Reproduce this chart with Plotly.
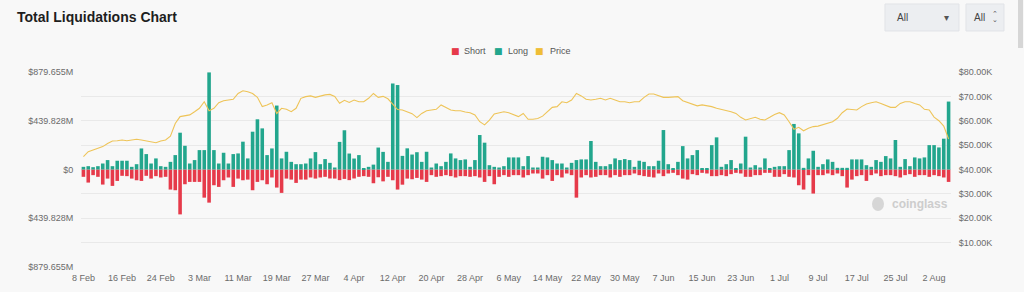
import pandas as pd
import plotly.graph_objects as go

# ---------------- data ----------------
start_date = "2024-02-08"
n_days = 180
dates = pd.date_range(start_date, periods=n_days, freq="D")

long_m = [24,30,21,30,54,85,30,79,79,79,
          24,48,190,139,54,100,30,24,69,130,
          332,214,54,85,175,175,876,175,54,151,
          54,139,145,251,100,341,453,371,130,190,
          577,100,160,69,48,48,54,100,157,48,
          94,60,18,249,354,144,99,130,9,24,
          44,198,159,69,776,762,123,191,135,156,
          69,160,18,54,30,69,145,100,85,91,
          24,85,311,242,39,24,18,30,109,109,
          109,30,121,18,18,115,109,85,54,54,
          18,60,85,91,91,257,69,30,30,48,
          100,85,94,85,24,79,69,30,30,79,
          356,48,9,69,211,100,130,175,9,9,
          220,290,24,48,85,9,54,296,18,39,
          18,100,9,24,30,30,175,411,326,15,
          100,169,24,48,91,69,15,15,15,91,
          91,91,39,24,85,69,121,100,266,24,
          94,30,109,100,109,220,220,199,278,613]

short_m = [66,118,51,66,136,82,148,103,57,60,
           82,97,103,57,82,60,72,66,181,187,
           405,133,112,112,112,254,299,142,157,97,
           72,157,82,97,91,187,112,97,133,72,
           163,211,82,91,121,91,91,72,82,72,
           66,81,82,96,85,96,81,66,60,66,
           124,70,107,66,97,181,137,82,88,76,
           91,112,51,66,60,51,60,72,60,60,
           66,60,72,112,60,133,66,51,66,51,
           51,72,51,36,36,82,51,103,51,72,
           36,51,254,72,51,72,66,51,51,72,
           51,66,51,51,36,51,60,66,72,36,
           60,36,30,51,82,91,42,51,30,36,
           60,60,51,60,42,30,36,66,66,51,
           51,30,30,66,66,42,66,72,142,181,
           51,217,51,51,36,51,36,60,163,91,
           60,51,103,51,36,60,51,51,60,72,
           51,42,66,51,51,66,51,60,72,112]

price_k = [45.3,47.3,48.0,48.7,49.4,50.7,51.7,51.8,52.1,51.8,
           52.1,52.4,52.1,51.8,51.4,51.0,51.7,52.1,53.7,58.9,
           61.7,61.9,62.4,63.7,65.1,67.8,64.1,65.1,67.4,68.2,
           68.5,68.8,71.2,72.3,71.9,71.2,69.6,65.8,66.5,67.4,
           63.0,65.1,64.7,63.7,65.1,69.2,69.9,70.2,69.6,70.2,
           70.6,70.8,70.0,67.2,68.4,67.5,68.5,67.8,67.8,69.2,
           71.2,69.6,70.0,69.0,66.8,64.6,64.4,63.8,62.9,61.3,
           63.0,64.1,64.4,64.7,66.5,65.4,64.4,64.1,64.1,63.6,
           63.3,62.4,59.6,58.3,60.3,62.8,63.3,63.7,63.3,62.6,
           61.7,63.0,60.6,60.6,60.9,61.9,63.7,65.5,65.8,67.8,
           67.4,68.5,71.2,70.2,68.8,68.5,68.8,69.2,68.5,69.2,
           68.5,67.8,67.8,67.4,67.8,67.8,69.6,71.0,71.0,70.2,
           69.6,69.6,69.6,69.9,68.2,67.4,66.9,66.1,66.5,66.3,
           65.8,65.1,64.7,64.1,63.7,63.0,61.4,60.3,61.0,61.4,
           60.6,60.3,61.4,62.6,63.3,62.4,59.6,56.5,57.3,55.9,
           56.9,57.6,57.8,58.3,58.9,59.6,61.0,63.3,64.8,64.7,
           64.4,65.8,66.9,67.4,67.8,67.1,66.2,65.5,65.5,67.1,
           67.8,67.8,67.1,66.5,64.7,64.4,61.5,60.0,57.8,52.5]

left_tick_vals = [-879.655, -439.828, 0, 439.828, 879.655]
left_tick_text = ["$879.655M", "$439.828M", "$0", "$439.828M", "$879.655M"]
right_tick_vals = [0, 10, 20, 30, 40, 50, 60, 70, 80]
right_tick_text = ["", "$10.00K", "$20.00K", "$30.00K", "$40.00K",
                   "$50.00K", "$60.00K", "$70.00K", "$80.00K"]
x_tick_step = 8
legend_names = ["Short", "Long", "Price"]

assert len(long_m) == n_days and len(short_m) == n_days and len(price_k) == n_days

# ---------------- style ----------------
W, H = 1024, 292
L, R, T, B = 81, 73, 72, 25
BG = "#f8f8f8"
GREEN = "#22a68d"
RED = "#e63a4a"
GOLD = "#efbd36"
LINE_GOLD = "#eec458"
TICK = "#6b6b6b"
FONT = "Liberation Sans, Arial, sans-serif"

pw, ph = W - L - R, H - T - B


def px(xp):
    return (xp - L) / pw


def py(yp):
    return (H - B - yp) / ph


fig = go.Figure()

fig.add_trace(go.Bar(x=dates, y=[-v for v in short_m], name=legend_names[0],
                     marker=dict(color=RED, line=dict(width=0)),
                     showlegend=False))
fig.add_trace(go.Bar(x=dates, y=long_m, name=legend_names[1],
                     marker=dict(color=GREEN, line=dict(width=0)),
                     showlegend=False))
fig.add_trace(go.Scatter(x=dates, y=price_k, name=legend_names[2], yaxis="y2",
                         mode="lines", line=dict(color=LINE_GOLD, width=1.1),
                         showlegend=False))

ann = [
    dict(text="<b>Total Liquidations Chart</b>", x=px(15), y=py(17),
         xanchor="left", font=dict(size=14, color="#1e1e1e", family=FONT)),
    # dropdown texts
    dict(text="All", x=px(895), y=py(17.5), xanchor="left",
         font=dict(size=10, color="#444444")),
    dict(text="▾", x=px(946), y=py(17.5), xanchor="center",
         font=dict(size=10, color="#555555", family="DejaVu Sans")),
    dict(text="All", x=px(972), y=py(17.5), xanchor="left",
         font=dict(size=10, color="#444444")),
    dict(text="⌃", x=px(995), y=py(14.5), xanchor="center",
         font=dict(size=7, color="#555555", family="DejaVu Sans")),
    dict(text="⌄", x=px(995), y=py(19.5), xanchor="center",
         font=dict(size=7, color="#555555", family="DejaVu Sans")),
    # watermark
    dict(text="<b>coinglass</b>", x=px(890), y=py(204), xanchor="left",
         font=dict(size=12, color="#cdcdcd", family=FONT)),
]
# custom legend (small squares + labels)
legend_pos = [(455, 462), (498, 506), (539, 548)]
legend_cols = [RED, GREEN, GOLD]
for (sx, tx), nm, col in zip(legend_pos, legend_names, legend_cols):
    ann.append(dict(text="■", x=px(sx), y=py(51.5), xanchor="center",
                    font=dict(size=9, color=col, family="DejaVu Sans")))
    ann.append(dict(text=nm, x=px(tx), y=py(51), xanchor="left",
                    font=dict(size=9, color="#555555")))
for a in ann:
    a.update(xref="paper", yref="paper", yanchor="middle", showarrow=False)

shapes = [
    dict(type="rect", x0=px(885), x1=px(959), y0=py(31), y1=py(4),
         fillcolor="#eceef1", line=dict(color="#e1e3e7", width=1)),
    dict(type="rect", x0=px(966), x1=px(1004), y0=py(31), y1=py(4),
         fillcolor="#eceef1", line=dict(color="#e1e3e7", width=1)),
    dict(type="circle", x0=px(872), x1=px(884), y0=py(211), y1=py(197),
         fillcolor="#d6d6d6", line=dict(width=0)),
    dict(type="rect", x0=px(1018), x1=px(1023), y0=py(48), y1=py(0),
         fillcolor="#d6d6d6", line=dict(width=0)),
]
for s in shapes:
    s.update(xref="paper", yref="paper", layer="above")

fig.update_layout(
    width=W, height=H,
    margin=dict(l=L, r=R, t=T, b=B, pad=0, autoexpand=False),
    paper_bgcolor=BG, plot_bgcolor=BG,
    barmode="relative", bargap=0.26,
    showlegend=False,
    font=dict(family=FONT, size=9, color=TICK),
    xaxis=dict(type="date",
               range=[dates[0] - pd.Timedelta(hours=12),
                      dates[-1] + pd.Timedelta(hours=12)],
               tickvals=list(dates[::x_tick_step]), tickformat="%-d %b",
               showgrid=False, zeroline=False, showline=False,
               ticks="outside", ticklen=2, tickcolor="rgba(0,0,0,0)",
               tickfont=dict(size=9, color=TICK)),
    yaxis=dict(range=[-879.655, 879.655], tickvals=left_tick_vals,
               ticktext=left_tick_text, showgrid=False, zeroline=False,
               showline=False, ticks="outside", ticklen=5,
               tickcolor="rgba(0,0,0,0)", tickfont=dict(size=9, color=TICK)),
    yaxis2=dict(range=[0, 80], overlaying="y", side="right",
                tickvals=right_tick_vals, ticktext=right_tick_text,
                showgrid=True, gridcolor="#e9e9e9", gridwidth=1,
                zeroline=False, showline=False, ticks="outside", ticklen=5,
                tickcolor="rgba(0,0,0,0)", tickfont=dict(size=9, color=TICK)),
    hovermode=False,
    annotations=ann,
    shapes=shapes,
)

fig.write_html("out.html")
